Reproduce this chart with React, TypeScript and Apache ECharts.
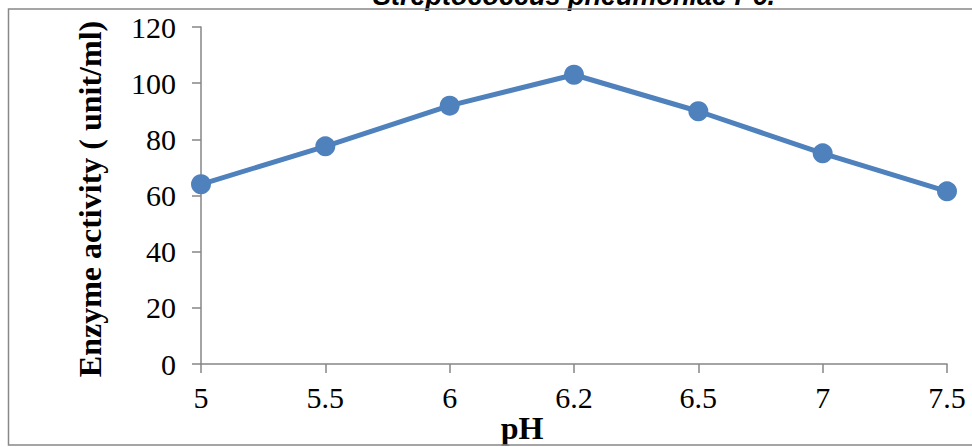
import React, { useEffect, useRef } from 'react';
import * as echarts from 'echarts';

const categories = ['5', '5.5', '6', '6.2', '6.5', '7', '7.5'];
const activity = [64, 77.5, 92, 103, 90, 75, 61.5];
const yMin = 0;
const yMax = 120;
const yStep = 20;
const titleText = 'Streptococcus pneumoniae P6.';
const yTitle = 'Enzyme activity ( unit/ml)';
const xTitle = 'pH';

const SERIF = "'Times New Roman', 'Liberation Serif', serif";
const SANS = "Arial, 'Liberation Sans', sans-serif";
const AXIS = '#868686';
const BLUE = '#4F81BD';

export default function App() {
  const ref = useRef<HTMLDivElement>(null);
  useEffect(() => {
    const chart = echarts.init(ref.current!, null, { renderer: 'svg' });
    chart.setOption({
      animation: false,
      backgroundColor: '#ffffff',
      grid: { left: 201, right: 25, top: 27, bottom: 83, containLabel: false },
      xAxis: {
        type: 'category',
        data: categories,
        boundaryGap: false,
        axisLine: { show: true, lineStyle: { color: AXIS, width: 1.5 } },
        axisTick: { show: true, inside: false, length: 9, alignWithLabel: true, lineStyle: { color: AXIS, width: 1.5 } },
        axisLabel: { color: '#000', fontFamily: SERIF, fontSize: 30, margin: 18 },
        splitLine: { show: false },
      },
      yAxis: {
        type: 'value',
        min: yMin,
        max: yMax,
        interval: yStep,
        axisLine: { show: true, lineStyle: { color: AXIS, width: 1.5 } },
        axisTick: { show: true, inside: false, length: 9, lineStyle: { color: AXIS, width: 1.5 } },
        axisLabel: { color: '#000', fontFamily: SERIF, fontSize: 30, margin: 25 },
        splitLine: { show: false },
      },
      series: [
        {
          type: 'line',
          data: activity,
          symbol: 'circle',
          symbolSize: 20,
          lineStyle: { color: BLUE, width: 5 },
          itemStyle: { color: BLUE },
          z: 5,
        },
      ],
      graphic: [
        {
          type: 'text',
          x: 574,
          y: -4.5,
          z: 10,
          style: {
            text: titleText,
            fill: '#000',
            fontFamily: SANS,
            fontSize: 27,
            fontWeight: 'bold',
            fontStyle: 'italic',
            align: 'center',
            verticalAlign: 'middle',
          },
        },
        {
          type: 'text',
          x: 90,
          y: 199,
          rotation: Math.PI / 2,
          z: 10,
          style: {
            text: yTitle,
            fill: '#000',
            fontFamily: SERIF,
            fontSize: 32,
            fontWeight: 'bold',
            align: 'center',
            verticalAlign: 'middle',
          },
        },
        {
          type: 'text',
          x: 522,
          y: 428,
          z: 10,
          style: {
            text: xTitle,
            fill: '#000',
            fontFamily: SERIF,
            fontSize: 32,
            fontWeight: 'bold',
            align: 'center',
            verticalAlign: 'middle',
          },
        },
        {
          type: 'rect',
          z: 20,
          shape: { x: 0, y: 445.5, width: 972, height: 3 },
          style: { fill: '#ffffff' },
        },
        {
          type: 'rect',
          z: 30,
          shape: { x: 8.5, y: 9, width: 980, height: 436 },
          style: { fill: 'none', stroke: '#888888', lineWidth: 1.5 },
        },
      ],
    });
    return () => chart.dispose();
  }, []);
  return (
    <div
      ref={ref}
      style={{ position: 'fixed', left: 0, top: 0, width: 972, height: 447, background: '#fff' }}
    />
  );
}
